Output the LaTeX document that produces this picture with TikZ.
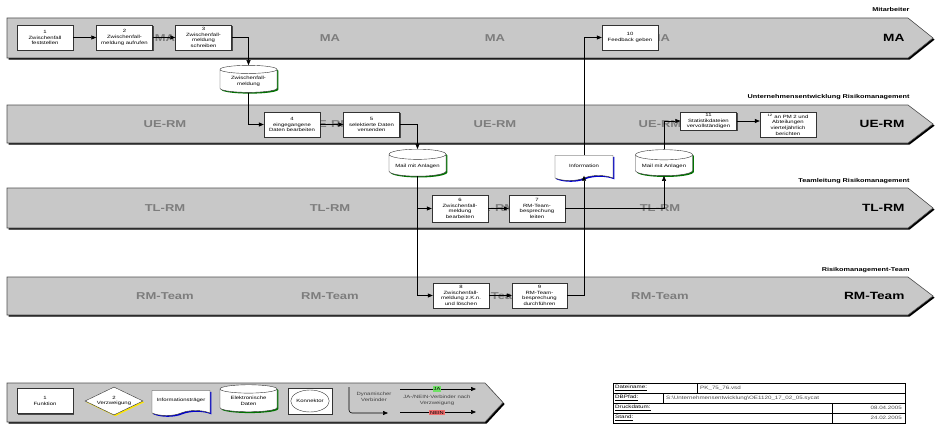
\documentclass[tikz,border=0pt]{standalone}
\usepackage{fontspec}
\setmainfont{Liberation Sans}[FakeStretch=1.3]
\usetikzlibrary{arrows.meta,shapes.geometric,shapes.symbols,shadows}

\definecolor{lanegray}{RGB}{200,200,200}
\definecolor{markgray}{RGB}{125,125,125}
\definecolor{rimgray}{RGB}{80,80,80}
\definecolor{jagreen}{RGB}{110,225,100}
\definecolor{neinred}{RGB}{240,110,110}
\newcommand{\boxfont}{\fontsize{4.6}{5.7}\selectfont}

\tikzset{
  lane/.style={fill=lanegray,draw=rimgray,line width=0.6pt},
  laneshadow/.style={fill=black,shift={(1.6,1.6)}},
  watermark/.style={font=\fontsize{10}{12}\selectfont\bfseries,text=markgray},
  laneend/.style={font=\fontsize{10.5}{12}\selectfont\bfseries,anchor=east},
  lanehead/.style={font=\fontsize{5.6}{6.5}\selectfont\bfseries,anchor=base east},
  proc/.style={draw=black!80,fill=white,minimum width=56pt,minimum height=25pt,inner sep=1pt,
    align=center,font=\boxfont,
    drop shadow={shadow xshift=1.3pt,shadow yshift=-1.3pt,fill=black!70,opacity=1}},
  store/.style={cylinder,shape border rotate=90,aspect=0.22,draw=black!80,fill=white,
    minimum width=57pt,minimum height=27pt,inner sep=1pt,align=center,font=\boxfont,
    drop shadow={shadow xshift=1.3pt,shadow yshift=-1.3pt,fill=green!45!black,opacity=1}},
  doc/.style={tape,tape bend top=none,tape bend bottom=in and out,tape bend height=5pt,
    draw=black!80,fill=white,minimum width=58pt,minimum height=25pt,inner sep=1pt,
    align=center,font=\boxfont,
    drop shadow={shadow xshift=1.3pt,shadow yshift=-1.3pt,fill=blue!80!black,opacity=1}},
  decide/.style={diamond,aspect=2,draw=black!80,fill=white,minimum width=58pt,minimum height=28pt,
    inner sep=0pt,align=center,font=\boxfont,
    drop shadow={shadow xshift=1.3pt,shadow yshift=-1.3pt,fill=yellow!90!orange,opacity=1}},
  konn/.style={draw=black!80,fill=white,minimum width=44pt,minimum height=26pt,
    drop shadow={shadow xshift=1.3pt,shadow yshift=-1.3pt,fill=red!85!black,opacity=1}},
  flow/.style={-{Triangle[length=5pt,width=4pt]},line width=0.6pt},
  cell/.style={font=\fontsize{4.8}{5.5}\selectfont,inner sep=0pt,anchor=west},
  tagbox/.style={font=\fontsize{4.4}{5}\selectfont,inner sep=1pt}
}

\begin{document}
\begin{tikzpicture}[x=1pt,y=-1pt]
\useasboundingbox (0,0) rectangle (937,428);

% swimlanes
\foreach \t/\b/\lanetag/\lanename in {18/58/MA/Mitarbeiter,
    105/143/UE-RM/Unternehmensentwicklung Risikomanagement,
    188/228/TL-RM/Teamleitung Risikomanagement,
    277/315/RM-Team/Risikomanagement-Team}{
  \fill[laneshadow] (7,\t) -- (908,\t) -- (933,{(\t+\b)/2}) -- (908,\b) -- (7,\b) -- cycle;
  \filldraw[lane] (7,\t) -- (908,\t) -- (933,{(\t+\b)/2}) -- (908,\b) -- (7,\b) -- cycle;
  \foreach \x in {165,330,495,660}
    \node[watermark] (wm-\lanetag-\x) at (\x,{(\t+\b)/2}) {\lanetag};
  \node[laneend] (end-\lanetag) at (908,{(\t+\b)/2}) {\lanetag};
  \node[lanehead] (head-\lanetag) at (913,\t-6) {\lanename};
}

% Mitarbeiter
\node[proc] (feststellen) at (45,37.5) {1\\Zwischenfall\\feststellen};
\node[proc] (aufrufen) at (124.5,37.5) {2\\Zwischenfall-\\meldung aufrufen};
\node[proc] (schreiben) at (203.5,37.5) {3\\Zwischenfall-\\meldung\\schreiben};
\node[proc] (feedback) at (630,37.5) {10\\Feedback geben};
\node[store] (meldungdb) at (248.5,81.5) {Zwischenfall-\\meldung};

% UE-RM
\node[proc] (eingang) at (292,124.5) {4\\eingegangene\\Daten bearbeiten};
\node[proc] (versenden) at (371.5,124.5) {5\\selektierte Daten\\versenden};
\node[proc,minimum height=18pt] (statistik) at (708.5,121) {11\\Statistikdateien\\vervollständigen};
\node[proc] (berichten) at (788,124.5) {\textsuperscript{12} an PM 2 und\\Abteilungen\\vierteljährlich\\berichten};
\node[store] (mailtl) at (417.5,166) {Mail mit Anlagen};
\node[doc] (info) at (584,165.5) {Information};
\node[store,minimum height=26pt] (mailue) at (664,166) {Mail mit Anlagen};

% TL-RM
\node[proc,minimum height=27pt] (bearbeiten) at (460,208.5) {6\\Zwischenfall-\\meldung\\bearbeiten};
\node[proc,minimum height=27pt] (leiten) at (537,208.5) {7\\RM-Team-\\besprechung\\leiten};

% RM-Team
\node[proc] (loeschen) at (461,295.5) {8\\Zwischenfall-\\meldung z.K.n.\\und löschen};
\node[proc,minimum width=55pt] (durchfuehren) at (539.5,295.5) {9\\RM-Team-\\besprechung\\durchführen};

% flow
\draw[flow] (feststellen) -- (aufrufen);
\draw[flow] (aufrufen) -- (schreiben);
\draw[flow] (schreiben.east) -| (meldungdb.north);
\draw[flow] (meldungdb.south) |- (eingang.west);
\draw[flow] (eingang) -- (versenden);
\draw[flow] (versenden.east) -| (mailtl.north);
\draw[flow] (mailtl.south) |- (loeschen.west);
\draw[flow] (mailtl.south |- bearbeiten.west) -- (bearbeiten.west);
\draw[flow] (bearbeiten) -- (leiten);
\draw[flow] (loeschen) -- (durchfuehren);
\draw[flow] (durchfuehren.east) -| (info.south);
\draw[flow] (info.north) |- (feedback.west);
\draw[flow] (leiten.east) -| (mailue.south);
\draw[flow] (mailue.north) |- (statistik.west);
\draw[flow] (statistik.east) -- (statistik.east -| berichten.west);

% legend
\fill[laneshadow] (7,383) -- (485,383) -- (503,402.5) -- (485,422) -- (7,422) -- cycle;
\filldraw[lane] (7,383) -- (485,383) -- (503,402.5) -- (485,422) -- (7,422) -- cycle;
\node[proc] (legfunc) at (45,401) {1\\Funktion};
\node[decide] (legdecide) at (114,401) {2\\Verzweigung};
\node[doc] (legdoc) at (181,400.5) {Informationsträger};
\node[store] (legstore) at (248.5,401) {Elektronische\\Daten};
\node[konn] (legkonn) at (310,401) {};
\node[draw=black!80,ellipse,fill=white,minimum width=38pt,minimum height=22pt,inner sep=0pt,
  font=\boxfont] (legring) at (legkonn) {Konnektor};
\coordinate (dynstart) at (349,387);
\coordinate (dynend) at (388,413);
\draw[flow,rounded corners=3pt] (dynstart) |- (dynend);
\node[font=\boxfont,align=center,text=black!75] (dyntext) at (374,397) {Dynamischer\\Verbinder};
\coordinate (jastart) at (400,389);
\coordinate (jaend) at (476,389);
\coordinate (neinstart) at (400,412);
\coordinate (neinend) at (476,412);
\draw[flow] (jastart) -- (jaend);
\draw[flow] (neinstart) -- (neinend);
\node[tagbox,fill=jagreen] (jatag) at (437,389) {JA};
\node[tagbox,fill=neinred] (neintag) at (437,412.5) {NEIN};
\node[font=\boxfont,align=center,text=black!75] (jneintext) at (437,400.5) {JA-/NEIN-Verbinder nach\\Verzweigung};

% title block
\draw[line width=0.5pt] (613,383) rectangle (905,423);
\draw[line width=0.5pt] (613,393) -- (905,393) (613,403) -- (905,403) (613,413) -- (905,413);
\draw[line width=0.5pt] (697,383) -- (697,393) (663,393) -- (663,403) (832,403) -- (832,423);
\node[cell] (tbname) at (615,388) {\underline{Dateiname:}};
\node[cell,text=black!70] (tbnameval) at (700,388) {PK\_75\_76.vsd};
\node[cell] (tbpath) at (615,398) {\underline{DBPfad:}};
\node[cell,text=black!70] (tbpathval) at (666,398) {S:\textbackslash Unternehmensentwicklung\textbackslash OE1120\_17\_02\_05.sycat};
\node[cell] (tbdruck) at (615,408) {\underline{Druckdatum:}};
\node[cell,anchor=east,text=black!70] (tbdruckval) at (902,408) {08.04.2005};
\node[cell] (tbstand) at (615,418) {\underline{Stand:}};
\node[cell,anchor=east,text=black!70] (tbstandval) at (902,418) {24.02.2005};
\end{tikzpicture}
\end{document}
